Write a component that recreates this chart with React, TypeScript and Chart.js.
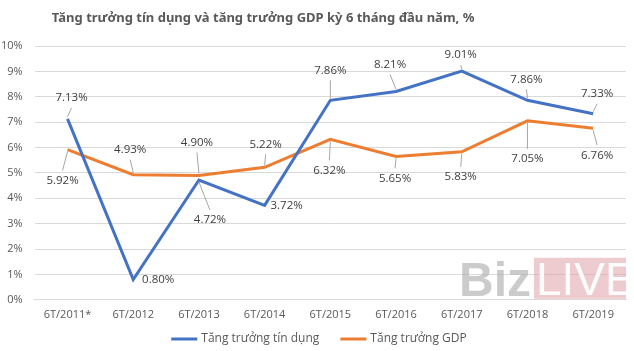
import React, { useEffect, useRef } from "react";
import { Chart, registerables } from "chart.js";

Chart.register(...registerables);

const categories = ["6T/2011*", "6T/2012", "6T/2013", "6T/2014", "6T/2015", "6T/2016", "6T/2017", "6T/2018", "6T/2019"];
const creditGrowth = [7.13, 0.8, 4.72, 3.72, 7.86, 8.21, 9.01, 7.86, 7.33];
const gdpGrowth = [5.92, 4.93, 4.9, 5.22, 6.32, 5.65, 5.83, 7.05, 6.76];
const yMin = 0;
const yMax = 10;
const titleText = "Tăng trưởng tín dụng và tăng trưởng GDP kỳ 6 tháng đầu năm, %";
const seriesNames = ["Tăng trưởng tín dụng", "Tăng trưởng GDP"];
const seriesColors = ["#4472C4", "#ED7D31"];

// label placement offsets (px) relative to each point — styling only
const creditLabelOffsets: [number, number][] = [[4, -21], [25, 0], [11, 40], [22, 0], [0, -30], [-6, -27], [-1, -16], [-1, -21], [4, -20]];
const gdpLabelOffsets: [number, number][] = [[-5, 31], [-3, -25], [-2, -33], [1, -23], [-1, 31], [-1, 22], [-1, 25], [0, 38], [4, 27]];

const FONT = "'Open Sans', 'Noto Sans', sans-serif";

const titlePlugin = {
  id: "customTitle",
  afterDraw(chart: any) {
    const ctx = chart.ctx;
    ctx.save();
    ctx.font = `bold 13px 'Noto Sans', sans-serif`;
    ctx.fillStyle = "#595959";
    ctx.textAlign = "center";
    ctx.textBaseline = "middle";
    ctx.fillText(titleText, chart.width * 0.415, 18);
    ctx.restore();
  },
};

const legendPlugin = {
  id: "customLegend",
  afterDraw(chart: any) {
    const ctx = chart.ctx;
    ctx.save();
    ctx.font = `12px ${FONT}`;
    ctx.textBaseline = "middle";
    ctx.textAlign = "left";
    const sample = 26;
    const gapText = 4;
    const gapItem = 21;
    const widths = chart.data.datasets.map((d: any) => ctx.measureText(d.label).width);
    let total = 0;
    widths.forEach((w: number, i: number) => {
      total += sample + gapText + w + (i < widths.length - 1 ? gapItem : 0);
    });
    let x = 319 * (chart.width / 634) - total / 2;
    const y = 339;
    chart.data.datasets.forEach((d: any, i: number) => {
      ctx.strokeStyle = d.borderColor;
      ctx.lineWidth = 3;
      ctx.beginPath();
      ctx.moveTo(x, y);
      ctx.lineTo(x + sample, y);
      ctx.stroke();
      ctx.fillStyle = "#595959";
      ctx.fillText(d.label, x + sample + gapText, y);
      x += sample + gapText + widths[i] + gapItem;
    });
    ctx.restore();
  },
};

const labelPlugin = {
  id: "pointLabels",
  afterDatasetsDraw(chart: any) {
    const ctx = chart.ctx;
    const offsets = [creditLabelOffsets, gdpLabelOffsets];
    ctx.save();
    ctx.font = `11.5px ${FONT}`;
    ctx.textAlign = "center";
    ctx.textBaseline = "middle";
    chart.data.datasets.forEach((ds: any, di: number) => {
      const meta = chart.getDatasetMeta(di);
      meta.data.forEach((el: any, i: number) => {
        const [dx, dy] = offsets[di][i];
        const lx = el.x + dx;
        const ly = el.y + dy;
        if (Math.abs(dy) > 12) {
          const dir = dy > 0 ? 1 : -1;
          const ex = lx;
          const ey = ly - dir * 10;
          ctx.strokeStyle = "#a6a6a6";
          ctx.lineWidth = 1;
          ctx.beginPath();
          ctx.moveTo(el.x, el.y + dir * 2);
          ctx.lineTo(ex, ey);
          ctx.stroke();
        }
        ctx.fillStyle = "#404040";
        ctx.fillText(ds.data[i].toFixed(2) + "%", lx, ly);
      });
    });
    ctx.restore();
  },
};

const watermarkPlugin = {
  id: "watermark",
  beforeDatasetsDraw(chart: any) {
    const ctx = chart.ctx;
    const a = chart.chartArea;
    ctx.save();
    const boxRight = a.right;
    const boxLeft = boxRight - 92;
    const boxTop = a.bottom - 42;
    ctx.fillStyle = "rgba(222,160,165,0.55)";
    ctx.fillRect(boxLeft, boxTop, boxRight - boxLeft, 41);
    ctx.fillStyle = "rgba(255,255,255,0.95)";
    ctx.font = `46px 'Liberation Sans', sans-serif`;
    ctx.textBaseline = "alphabetic";
    ctx.textAlign = "left";
    ctx.fillText("LIVE", boxLeft + 2, a.bottom - 5);
    ctx.fillStyle = "rgba(175,175,175,0.65)";
    ctx.font = `bold 48px 'Liberation Sans', sans-serif`;
    ctx.textAlign = "right";
    ctx.fillText("Biz", boxLeft - 3, a.bottom - 4);
    ctx.restore();
  },
};

export default function App() {
  const ref = useRef<HTMLCanvasElement>(null);
  useEffect(() => {
    const chart = new Chart(ref.current!, {
      type: "line",
      data: {
        labels: categories,
        datasets: [
          {
            label: seriesNames[0],
            data: creditGrowth,
            borderColor: seriesColors[0],
            backgroundColor: seriesColors[0],
            borderWidth: 3,
            pointRadius: 0,
            tension: 0,
          },
          {
            label: seriesNames[1],
            data: gdpGrowth,
            borderColor: seriesColors[1],
            backgroundColor: seriesColors[1],
            borderWidth: 3,
            pointRadius: 0,
            tension: 0,
          },
        ],
      },
      options: {
        animation: false,
        responsive: false,
        layout: { padding: { left: -11, right: 8, top: 46, bottom: 22 } },
        scales: {
          x: {
            offset: true,
            grid: { display: false, drawTicks: false },
            border: { color: "#d9d9d9", width: 1 },
            ticks: { color: "#595959", font: { family: FONT, size: 11 }, padding: 8, maxRotation: 0 },
          },
          y: {
            min: yMin,
            max: yMax,
            grid: { color: "#d9d9d9", drawTicks: false },
            border: { display: false },
            ticks: {
              stepSize: 1,
              color: "#595959",
              font: { family: FONT, size: 11 },
              padding: 12,
              callback: (v: any) => v + "%",
            },
          },
        },
        plugins: {
          title: { display: false },
          legend: { display: false },
          tooltip: { enabled: false },
        },
      },
      plugins: [watermarkPlugin, labelPlugin, titlePlugin, legendPlugin],
    });
    return () => chart.destroy();
  }, []);
  return (
    <div style={{ position: "fixed", left: 0, top: 0, width: 634, height: 351, background: "#fff" }}>
      <canvas ref={ref} width={634} height={351} />
    </div>
  );
}
